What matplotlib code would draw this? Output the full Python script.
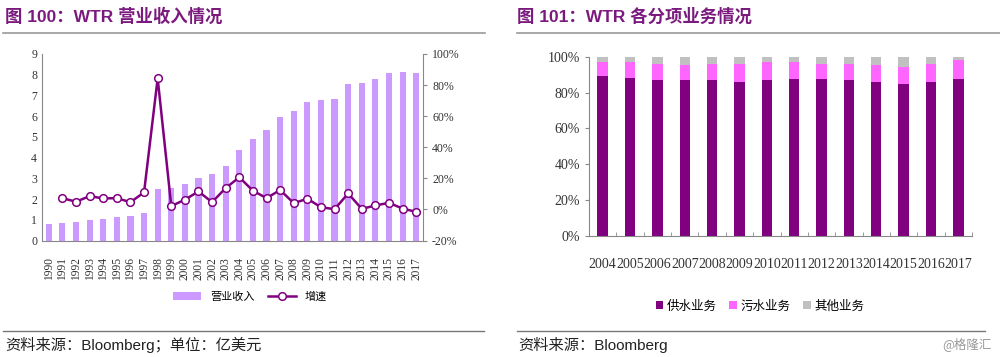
import matplotlib.pyplot as plt
from matplotlib.lines import Line2D
from matplotlib.ticker import FuncFormatter

plt.rcParams['font.family'] = ['Liberation Serif', 'Noto Sans CJK SC', 'DejaVu Sans']

years = [str(y) for y in range(1990, 2018)]
revenue = [0.79, 0.85, 0.92, 0.98, 1.05, 1.16, 1.21, 1.33, 2.49, 2.56, 2.73, 3.04, 3.20, 3.62,
           4.37, 4.90, 5.32, 5.95, 6.25, 6.67, 6.77, 6.83, 7.56, 7.62, 7.78, 8.07, 8.12, 8.07]
growth = [None, 7.3, 5.0, 8.6, 7.1, 7.3, 4.7, 11.0, 84.3, 2.2, 6.3, 11.6, 4.7, 13.8,
          20.7, 12.1, 7.3, 12.5, 4.1, 6.9, 1.5, 0.2, 10.3, 0.4, 2.6, 4.3, 0.6, -1.5]

seg_years = [str(y) for y in range(2004, 2018)]
water = [89.2, 88.3, 86.8, 86.8, 86.8, 86.1, 86.8, 87.5, 87.5, 86.8, 86.1, 84.6, 86.1, 87.5]
water_sewer = [96.8, 96.8, 96.1, 95.2, 96.1, 96.1, 96.8, 96.8, 96.1, 96.1, 95.2, 94.4, 96.1, 98.3]
sewer = [b - a for a, b in zip(water, water_sewer)]
other = [100 - v for v in water_sewer]

title_c = '#7B1A7E'
tick_c = '#333333'
spine_c = '#888888'
cjk = ['Noto Sans CJK SC', 'DejaVu Sans']

fig = plt.figure(figsize=(10, 3.57), dpi=100)

# ---- left chart
ax = fig.add_axes([0.042, 0.326, 0.381, 0.523])
x = range(len(years))
ax.bar(x, revenue, width=0.45, color='#CC99FF', label='营业收入')
ax.set_ylim(0, 9)
ax.set_xlim(-0.5, len(years) - 0.5)
ax.set_yticks(range(10))
ax.set_xticks(list(x))
ax.set_xticklabels(years, rotation=90, fontsize=8.3, color=tick_c)
ax.tick_params(axis='y', labelsize=8.5, colors=tick_c, length=0)
ax.tick_params(axis='x', length=0, pad=12)
for s in ['top', 'right']:
    ax.spines[s].set_visible(False)
for s in ['left', 'bottom']:
    ax.spines[s].set_color(spine_c)

ax2 = ax.twinx()
gx = [i for i, g in enumerate(growth) if g is not None]
gy = [g for g in growth if g is not None]
ax2.plot(gx, gy, color='#800080', lw=1.8, marker='o', ms=5.5, mfc='white', mec='#800080',
         mew=1.1, label='增速')
ax2.set_ylim(-20, 100)
ax2.set_yticks(range(-20, 101, 20))
ax2.yaxis.set_major_formatter(FuncFormatter(lambda v, p: f'{v:.0f}%'))
ax2.tick_params(axis='y', labelsize=8.5, colors=tick_c, length=3, color=spine_c)
for s in ['top', 'left', 'bottom']:
    ax2.spines[s].set_visible(False)
ax2.spines['right'].set_color(spine_c)

h1, l1 = ax.get_legend_handles_labels()
h2, l2 = ax2.get_legend_handles_labels()
fig.legend(h1 + h2, l1 + l2, loc='center', bbox_to_anchor=(0.25, 0.168), ncol=2,
           frameon=False, prop={'family': cjk, 'size': 8}, handlelength=2.5,
           columnspacing=1.2)

# ---- right chart
bx = fig.add_axes([0.589, 0.339, 0.383, 0.502])
xs = range(len(seg_years))
bx.bar(xs, water, width=0.38, color='#800080', label='供水业务')
bx.bar(xs, sewer, width=0.38, bottom=water, color='#FF66FF', label='污水业务')
bx.bar(xs, other, width=0.38, bottom=water_sewer, color='#C0C0C0', label='其他业务')
bx.set_ylim(0, 100)
bx.set_xlim(-0.5, len(seg_years) - 0.5)
bx.set_yticks(range(0, 101, 20))
bx.yaxis.set_major_formatter(FuncFormatter(lambda v, p: f'{v:.0f}%'))
bx.set_xticks(list(xs))
bx.set_xticklabels(seg_years, fontsize=10, color=tick_c)
bx.tick_params(axis='x', length=0, pad=16)
bx.set_xticks([i + 0.5 for i in xs], minor=True)
bx.tick_params(axis='x', which='minor', direction='in', length=3, color=spine_c)
bx.tick_params(axis='y', labelsize=10, colors=tick_c, length=3, color=spine_c)
for s in ['top', 'right']:
    bx.spines[s].set_visible(False)
for s in ['left', 'bottom']:
    bx.spines[s].set_color(spine_c)
bx.legend(loc='center', bbox_to_anchor=(0.76, 0.143), bbox_transform=fig.transFigure,
          ncol=3, frameon=False, prop={'family': cjk, 'size': 9}, handlelength=0.6,
          handleheight=0.6, handletextpad=0.3, columnspacing=1.0)

# ---- titles, rules, footers
fig.text(0.005, 0.955, '图 100：WTR 营业收入情况', color=title_c, fontsize=12.5,
         fontweight='bold', family=['Liberation Sans', 'Noto Sans CJK SC'], va='center')
fig.text(0.517, 0.955, '图 101：WTR 各分项业务情况', color=title_c, fontsize=12.5,
         fontweight='bold', family=['Liberation Sans', 'Noto Sans CJK SC'], va='center')
for x0, x1 in [(0.003, 0.485), (0.517, 1.0)]:
    fig.add_artist(Line2D([x0, x1], [0.907, 0.907], color='#999999', lw=1.2))
for x0, x1 in [(0.003, 0.484), (0.517, 0.985)]:
    fig.add_artist(Line2D([x0, x1], [0.073, 0.073], color='#777777', lw=1.0))
fig.text(0.005, 0.035, '资料来源：Bloomberg；单位：亿美元', fontsize=11,
         family=['Liberation Sans', 'Noto Sans CJK SC'], color='#222222', va='center')
fig.text(0.518, 0.035, '资料来源：Bloomberg', fontsize=11,
         family=['Liberation Sans', 'Noto Sans CJK SC'], color='#222222', va='center')
fig.text(0.992, 0.035, '@格隆汇', fontsize=9, family=cjk, color='#999999',
         ha='right', va='center')

fig.savefig('out.png', dpi=100)
